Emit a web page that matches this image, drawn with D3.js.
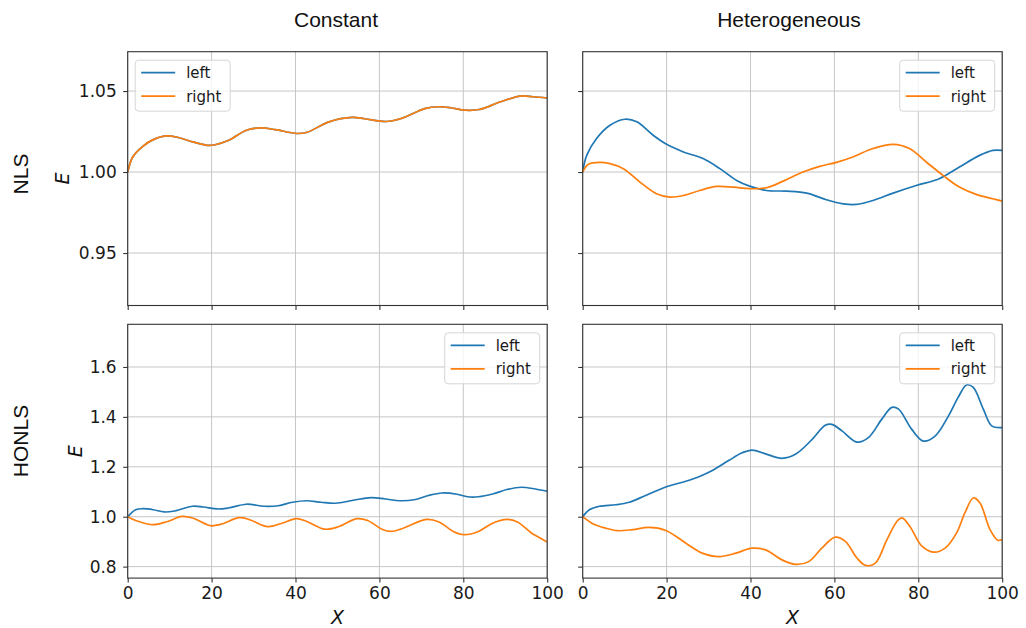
<!DOCTYPE html>
<html>
<head>
<meta charset="utf-8">
<script src="https://cdn.jsdelivr.net/npm/d3@7"></script>
<style>
  body { margin: 0; background: #fff; }
  .tick text { font-family: "DejaVu Sans", sans-serif; font-size: 17px; fill: #1a1a1a; }
  .tick line { stroke: #333; stroke-width: 1.1; }
  .domain { display: none; }
  .grid line { stroke: #c6c6c6; stroke-width: 1; }
  .title { font-family: "Liberation Sans", Arial, sans-serif; font-size: 21px; fill: #111; }
  .mathlbl { font-family: "DejaVu Sans", sans-serif; font-style: italic; font-size: 19px; fill: #111; }
  .legend text { font-family: "DejaVu Sans", sans-serif; font-size: 15px; fill: #1a1a1a; }
</style>
</head>
<body>
<svg id="chart" width="1026" height="628"></svg>
<script>
// tick values, titles
const xTicks = [0, 20, 40, 60, 80, 100];
const nlsTicks = [0.95, 1.00, 1.05];
const honlsTicks = [0.8, 1.0, 1.2, 1.4, 1.6];
const colTitles = ['Constant', 'Heterogeneous'];
const rowTitles = ['NLS', 'HONLS'];
const seriesNames = ['left', 'right'];
const seriesColors = ['#1f77b4', '#ff7f0e'];

// NLS, constant (left and right lie on top of each other)
const nlsConstX = [0, 1.2, 3.6, 6.1, 9.1, 12.1, 15.5, 18.9, 20.6, 24.1, 28.3, 31.7, 35.2, 40.3, 42.8, 48, 53.5, 56.5, 61.6, 65, 71, 74, 77, 80.4, 83.8, 88.9, 93.6, 96.6, 100];
const nlsConstE = [1.000, 1.0093, 1.0159, 1.020, 1.0223, 1.0213, 1.0186, 1.0165, 1.0167, 1.0196, 1.0258, 1.0273, 1.0262, 1.0238, 1.0246, 1.031, 1.0337, 1.0329, 1.0312, 1.0329, 1.0393, 1.0403, 1.0397, 1.0382, 1.0386, 1.0434, 1.0469, 1.0465, 1.0457];

// NLS, heterogeneous
const nlsHetLeftX = [0, 0.95, 3.3, 6.5, 10.1, 12.9, 16.8, 20, 24, 28.7, 32.7, 36.7, 39.8, 43.8, 48.6, 53.4, 58.1, 62.1, 65.2, 69.2, 74, 79.5, 85, 89.8, 94.6, 97.8, 100];
const nlsHetLeft = [1.000, 1.0103, 1.0207, 1.0289, 1.0326, 1.031, 1.0227, 1.0171, 1.0124, 1.0083, 1.0021, 0.9948, 0.9913, 0.9886, 0.9882, 0.987, 0.9829, 0.9804, 0.980, 0.9824, 0.987, 0.9917, 0.9959, 1.0031, 1.0103, 1.0134, 1.0134];
const nlsHetRightX = [0, 1.35, 4.1, 6.5, 9.7, 13.65, 17.6, 20.8, 24, 27.9, 31.9, 35.9, 39.8, 43.8, 47.8, 52.5, 56.5, 60.5, 64.4, 69.2, 74, 77.9, 81.9, 85.9, 89.8, 93.8, 97.8, 100];
const nlsHetRight = [1.000, 1.0048, 1.006, 1.0052, 1.0021, 0.9938, 0.9866, 0.9845, 0.9855, 0.9886, 0.9911, 0.9907, 0.9897, 0.9903, 0.9944, 1.000, 1.0035, 1.006, 1.0093, 1.0145, 1.0171, 1.0145, 1.0062, 0.9979, 0.9907, 0.9862, 0.9835, 0.982];

// HONLS, constant
const honlsConstLeftX = [0, 1.9, 3.6, 6.1, 8.7, 11.2, 15.5, 18, 21.4, 24, 28.3, 32.5, 35.9, 39.3, 42.7, 46.1, 49.5, 53.8, 58, 61.4, 64.9, 68.3, 71.7, 75, 78.5, 81, 83.6, 87, 90.4, 93.8, 97.2, 100];
const honlsConstLeft = [1.0, 1.028, 1.032, 1.028, 1.019, 1.023, 1.042, 1.039, 1.031, 1.035, 1.050, 1.042, 1.044, 1.058, 1.064, 1.058, 1.054, 1.066, 1.0765, 1.071, 1.064, 1.068, 1.085, 1.095, 1.090, 1.080, 1.080, 1.091, 1.109, 1.118, 1.111, 1.102];
const honlsConstRightX = [0, 1.9, 6.1, 9.5, 12.9, 15.5, 19.7, 22.3, 26.6, 29.1, 33.4, 36.8, 40.2, 42.7, 47, 50.4, 54.6, 57.2, 60.6, 62.7, 65.7, 71.2, 74.2, 77.6, 80.2, 83.6, 87, 90.4, 92.9, 96.3, 100];
const honlsConstRight = [1.0, 0.985, 0.968, 0.981, 1.001, 0.995, 0.964, 0.970, 0.996, 0.988, 0.960, 0.974, 0.992, 0.981, 0.950, 0.961, 0.992, 0.985, 0.950, 0.941, 0.954, 0.989, 0.979, 0.941, 0.928, 0.941, 0.974, 0.989, 0.979, 0.934, 0.899];

// HONLS, heterogeneous
const honlsHetLeftX = [0, 1.6, 4, 7.9, 11.1, 15, 19.8, 24.6, 27.7, 30.9, 34.9, 38, 40.4, 43.6, 47.5, 50.7, 54.7, 57.8, 59.4, 61.8, 65.4, 68.1, 71.3, 73.7, 75.3, 78.4, 81.2, 84, 87.2, 89.5, 91.5, 93.1, 95.5, 97.5, 100];
const honlsHetLeft = [1.0, 1.028, 1.042, 1.048, 1.058, 1.085, 1.119, 1.142, 1.160, 1.185, 1.226, 1.256, 1.267, 1.252, 1.234, 1.250, 1.310, 1.366, 1.370, 1.344, 1.299, 1.317, 1.391, 1.438, 1.431, 1.351, 1.303, 1.323, 1.404, 1.478, 1.528, 1.518, 1.431, 1.364, 1.357];
const honlsHetRightX = [0, 2.4, 5.5, 8.3, 11.9, 15.8, 19.8, 24.6, 28.5, 32.5, 36.5, 40.4, 43.6, 47.5, 50.7, 53.9, 57, 60.2, 62.6, 65.4, 67.4, 69.7, 72.5, 74.9, 76.1, 78, 80.8, 83.6, 86.4, 89.1, 91.1, 93.1, 94.7, 97.1, 99, 100];
const honlsHetRight = [1.0, 0.972, 0.954, 0.944, 0.948, 0.957, 0.945, 0.894, 0.854, 0.840, 0.854, 0.874, 0.867, 0.827, 0.809, 0.820, 0.874, 0.918, 0.901, 0.834, 0.805, 0.813, 0.907, 0.981, 0.995, 0.961, 0.883, 0.858, 0.874, 0.934, 1.015, 1.075, 1.055, 0.948, 0.905, 0.910];

// layout
const colLeft = [127.7, 582.7];
const rowTop = [51.7, 324.3];
const plotW = 419.5, plotH = 253.8;
const yDomains = [[0.9176, 1.0743], [0.754, 1.771]];
const yTicks = [nlsTicks, honlsTicks];
const yFormats = [d3.format('.2f'), d3.format('.1f')];

const zip = (xs, ys) => xs.map((v, i) => [v, ys[i]]);

const panels = [
  { row: 0, col: 0, legend: 'left',  series: [zip(nlsConstX, nlsConstE), zip(nlsConstX, nlsConstE)] },
  { row: 0, col: 1, legend: 'right', series: [zip(nlsHetLeftX, nlsHetLeft), zip(nlsHetRightX, nlsHetRight)] },
  { row: 1, col: 0, legend: 'right', series: [zip(honlsConstLeftX, honlsConstLeft), zip(honlsConstRightX, honlsConstRight)] },
  { row: 1, col: 1, legend: 'right', series: [zip(honlsHetLeftX, honlsHetLeft), zip(honlsHetRightX, honlsHetRight)] }
];

const svg = d3.select('#chart');

panels.forEach((p, k) => {
  const x = d3.scaleLinear().domain([0, 100]).range([0, plotW]);
  const y = d3.scaleLinear().domain(yDomains[p.row]).range([plotH, 0]);
  const g = svg.append('g')
    .attr('transform', `translate(${colLeft[p.col]},${rowTop[p.row]})`);

  g.append('clipPath').attr('id', 'clip' + k)
    .append('rect').attr('width', plotW).attr('height', plotH);

  // grid
  const grid = g.append('g').attr('class', 'grid');
  grid.selectAll('line.gx').data(xTicks).enter().append('line')
    .attr('x1', d => x(d)).attr('x2', d => x(d))
    .attr('y1', 0).attr('y2', plotH);
  grid.selectAll('line.gy').data(yTicks[p.row]).enter().append('line')
    .attr('x1', 0).attr('x2', plotW)
    .attr('y1', d => y(d)).attr('y2', d => y(d));

  // axes
  const xAxis = d3.axisBottom(x).tickValues(xTicks).tickSize(4.5).tickPadding(4.2);
  if (p.row === 0) xAxis.tickFormat('');
  g.append('g').attr('transform', `translate(0,${plotH})`).call(xAxis);

  const yAxis = d3.axisLeft(y).tickValues(yTicks[p.row]).tickSize(4.5).tickPadding(6.5)
    .tickFormat(p.col === 0 ? yFormats[p.row] : '');
  g.append('g').call(yAxis);

  // lines
  const line = d3.line()
    .x(d => x(d[0])).y(d => y(d[1]))
    .curve(d3.curveCatmullRom.alpha(0.5));
  g.append('g').attr('clip-path', `url(#clip${k})`)
    .selectAll('path').data(p.series).enter().append('path')
    .attr('d', line)
    .attr('fill', 'none')
    .attr('stroke', (d, i) => seriesColors[i])
    .attr('stroke-width', 1.7)
    .attr('stroke-linejoin', 'round');

  // spines
  g.append('rect')
    .attr('width', plotW).attr('height', plotH)
    .attr('fill', 'none').attr('stroke', '#333').attr('stroke-width', 1.1);

  // legend
  const lw = 95, lh = 51;
  const lx = p.legend === 'left' ? 7.5 : plotW - 7.5 - lw;
  const leg = g.append('g').attr('class', 'legend').attr('transform', `translate(${lx},8.5)`);
  leg.append('rect')
    .attr('width', lw).attr('height', lh).attr('rx', 3.5)
    .attr('fill', '#fff').attr('fill-opacity', 0.8)
    .attr('stroke', '#d6d6d6').attr('stroke-width', 1);
  const items = leg.selectAll('g.item').data(seriesNames).enter().append('g')
    .attr('transform', (d, i) => `translate(0,${12.5 + i * 23.5})`);
  items.append('line')
    .attr('x1', 6).attr('x2', 40)
    .attr('stroke', (d, i) => seriesColors[i]).attr('stroke-width', 1.7);
  items.append('text')
    .attr('x', 51).attr('dy', '0.36em')
    .text(d => d);
});

// column titles
svg.selectAll('text.coltitle').data(colTitles).enter().append('text')
  .attr('class', 'title')
  .attr('x', (d, i) => [336, 789][i]).attr('y', 26.7)
  .attr('text-anchor', 'middle')
  .text(d => d);

// row titles
svg.selectAll('text.rowtitle').data(rowTitles).enter().append('text')
  .attr('class', 'title')
  .attr('text-anchor', 'middle')
  .attr('dy', '0.36em')
  .attr('transform', (d, i) => `translate(20.5,${[174, 441][i]}) rotate(-90)`)
  .text(d => d);

// E labels
svg.selectAll('text.elabel').data(rowTitles).enter().append('text')
  .attr('class', 'mathlbl')
  .attr('text-anchor', 'middle')
  .attr('dy', '0.36em')
  .attr('transform', (d, i) => `translate(${[62, 75][i]},${rowTop[i] + plotH / 2}) rotate(-90)`)
  .text('E');

// X labels
svg.selectAll('text.xlabel').data(colLeft).enter().append('text')
  .attr('class', 'mathlbl')
  .attr('text-anchor', 'middle')
  .attr('x', d => d + plotW / 2).attr('y', 623.5)
  .text('X');
</script>
</body>
</html>
